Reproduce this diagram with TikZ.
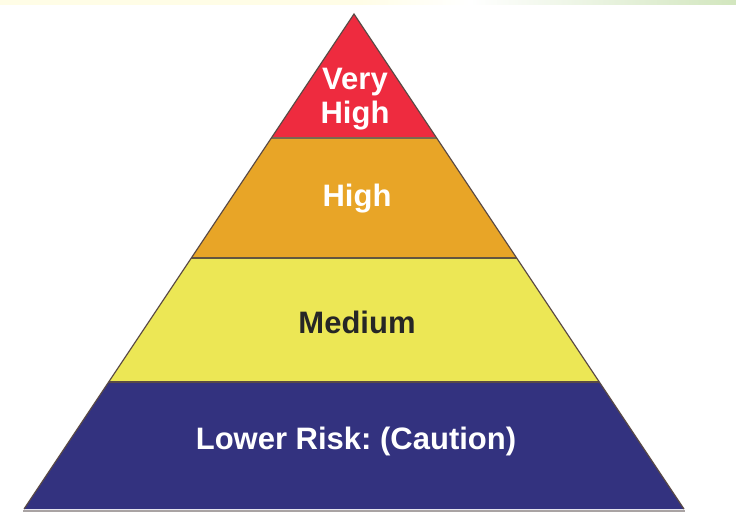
\documentclass[tikz,border=0pt]{standalone}
\usepackage{fontspec}
\setmainfont{Liberation Sans}
\frenchspacing
\definecolor{cRed}{HTML}{EE2B3F}
\definecolor{cOrange}{HTML}{E8A527}
\definecolor{cYellow}{HTML}{ECE755}
\definecolor{cBlue}{HTML}{33327F}
\definecolor{cEdge}{HTML}{5A4A45}
\definecolor{cBandLine}{HTML}{7A6A50}
\definecolor{cBase}{HTML}{A9A3A3}
\definecolor{cTopY}{HTML}{FFFDE6}
\definecolor{cTopG}{HTML}{D2E6BE}
\begin{document}
\begin{tikzpicture}[x=1pt,y=-1pt,
  lbl/.style={font=\bfseries\fontsize{31}{34}\selectfont, align=center, inner sep=0pt},
  sep/.style={draw=cBandLine, line width=1.8pt}]
\useasboundingbox (0,0) rectangle (736,520);
\fill[white] (0,0) rectangle (736,520);
% top strip
\shade[left color=cTopY, right color=cTopY] (0,0) rectangle (360,4);
\shade[left color=cTopY, right color=white] (360,0) rectangle (470,4);
\shade[left color=white, right color=cTopG] (470,0) rectangle (736,4);
% coordinates
\coordinate (A) at (354,14);
\coordinate (L1) at (271.3,138); \coordinate (R1) at (436.7,138);
\coordinate (L2) at (191.3,258); \coordinate (R2) at (516.7,258);
\coordinate (L3) at (108.7,382); \coordinate (R3) at (599.3,382);
\coordinate (BL) at (24,509); \coordinate (BR) at (684,509);
% bands
\fill[cRed] (A) -- (R1) -- (L1) -- cycle;
\fill[cOrange] (L1) -- (R1) -- (R2) -- (L2) -- cycle;
\fill[cYellow] (L2) -- (R2) -- (R3) -- (L3) -- cycle;
\fill[cBlue] (L3) -- (R3) -- (BR) -- (BL) -- cycle;
% separators
\draw[sep] (L1) -- (R1);
\draw[sep, draw=cBandLine!80!black] (L2) -- (R2);
\draw[sep, draw=cEdge] (L3) -- (R3);
% outline
\draw[cEdge, line width=1.2pt, line join=miter] (BL) -- (A) -- (BR);
% base line
\draw[cBase, line width=2.5pt] (23,511) -- (685,511);
% labels
\node[lbl, text=white] (vh) at (355,99) {Very\\High};
\node[lbl, text=white] (hi) at (357,199) {High};
\node[lbl, text=black!85] (me) at (357,322) {Medium};
\node[lbl, text=white] (lo) at (356,441) {Lower Risk: (Caution)};
\end{tikzpicture}
\end{document}
